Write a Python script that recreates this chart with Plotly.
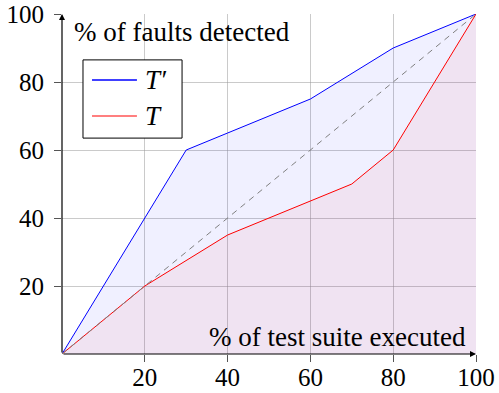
import plotly.graph_objects as go

# Data
x_tprime = [0, 20, 30, 40, 60, 80, 100]
y_tprime = [0, 40, 60, 65, 75, 90, 100]
x_t = [0, 20, 40, 60, 70, 80, 100]
y_t = [0, 20, 35, 45, 50, 60, 100]
diag_x = [0, 100]
diag_y = [0, 100]
tick_vals = [20, 40, 60, 80, 100]
tick_text = ["20", "40", "60", "80", "100"]
series_names = ["<i>T′</i>", "<i>T</i>"]
series_colors = ["#0000ff", "#ff0000"]

FONT = "Liberation Serif"

fig = go.Figure()
fig.add_trace(go.Scatter(x=x_tprime, y=y_tprime, mode="lines", showlegend=False,
                         name="T′", line=dict(color=series_colors[0], width=1),
                         fill="tozeroy", fillcolor="rgba(0,0,255,0.06)"))
fig.add_trace(go.Scatter(x=x_t, y=y_t, mode="lines", showlegend=False,
                         name="T", line=dict(color=series_colors[1], width=1),
                         fill="tozeroy", fillcolor="rgba(255,0,0,0.05)"))
fig.add_trace(go.Scatter(x=diag_x, y=diag_y, mode="lines", showlegend=False,
                         line=dict(color="#808080", width=1, dash="6px,5px")))

axis_common = dict(range=[0, 100], tickvals=tick_vals, ticktext=tick_text,
                   showgrid=True, gridcolor="rgba(150,150,150,0.5)", gridwidth=1,
                   zeroline=False, showline=False, ticks="outside", ticklen=7,
                   tickcolor="#555", automargin=False,
                   tickfont=dict(family=FONT, size=25, color="#000"))

fig.update_xaxes(**axis_common, ticklabelstandoff=-6)
fig.update_yaxes(**axis_common, ticklabelstandoff=5)

# axis lines with arrows
fig.add_annotation(x=100, y=0, ax=0, ay=0, xref="x", yref="y", axref="x", ayref="y",
                   showarrow=True, arrowhead=2, arrowsize=1, arrowwidth=1.2,
                   arrowcolor="#000", text="")
fig.add_annotation(x=0, y=100, ax=0, ay=0, xref="x", yref="y", axref="x", ayref="y",
                   showarrow=True, arrowhead=2, arrowsize=1, arrowwidth=1.2,
                   arrowcolor="#000", text="")

fig.add_annotation(text="% of faults detected", xref="paper", yref="paper",
                   x=0.024, y=0.947, xanchor="left", yanchor="middle", showarrow=False,
                   font=dict(family=FONT, size=27, color="#000"))
fig.add_annotation(text="% of test suite executed", xref="paper", yref="paper",
                   x=0.981, y=0.05, xanchor="right", yanchor="middle", showarrow=False,
                   font=dict(family=FONT, size=27, color="#000"))

# legend box (drawn manually for pgfplots-like proportions)
fig.add_shape(type="rect", xref="paper", yref="paper", x0=0.0507, x1=0.290,
              y0=0.635, y1=0.865, line=dict(color="#000", width=1), fillcolor="white",
              layer="above")
legend_rows = [0.806, 0.700]
for name, color, yy, lw in zip(series_names, series_colors, legend_rows, [1.6, 1.2]):
    fig.add_shape(type="line", xref="paper", yref="paper", x0=0.0725, x1=0.181,
                  y0=yy, y1=yy, line=dict(color=color, width=lw), layer="above")
    fig.add_annotation(text=name, xref="paper", yref="paper", x=0.196, y=yy,
                       xanchor="left", yanchor="middle", showarrow=False,
                       font=dict(family=FONT, size=27, color="#000"))

fig.update_layout(
    width=499, height=393,
    margin=dict(l=62, r=23, t=14, b=39, autoexpand=False),
    paper_bgcolor="white", plot_bgcolor="white",
    showlegend=False,
)

fig.write_html("out.html")
